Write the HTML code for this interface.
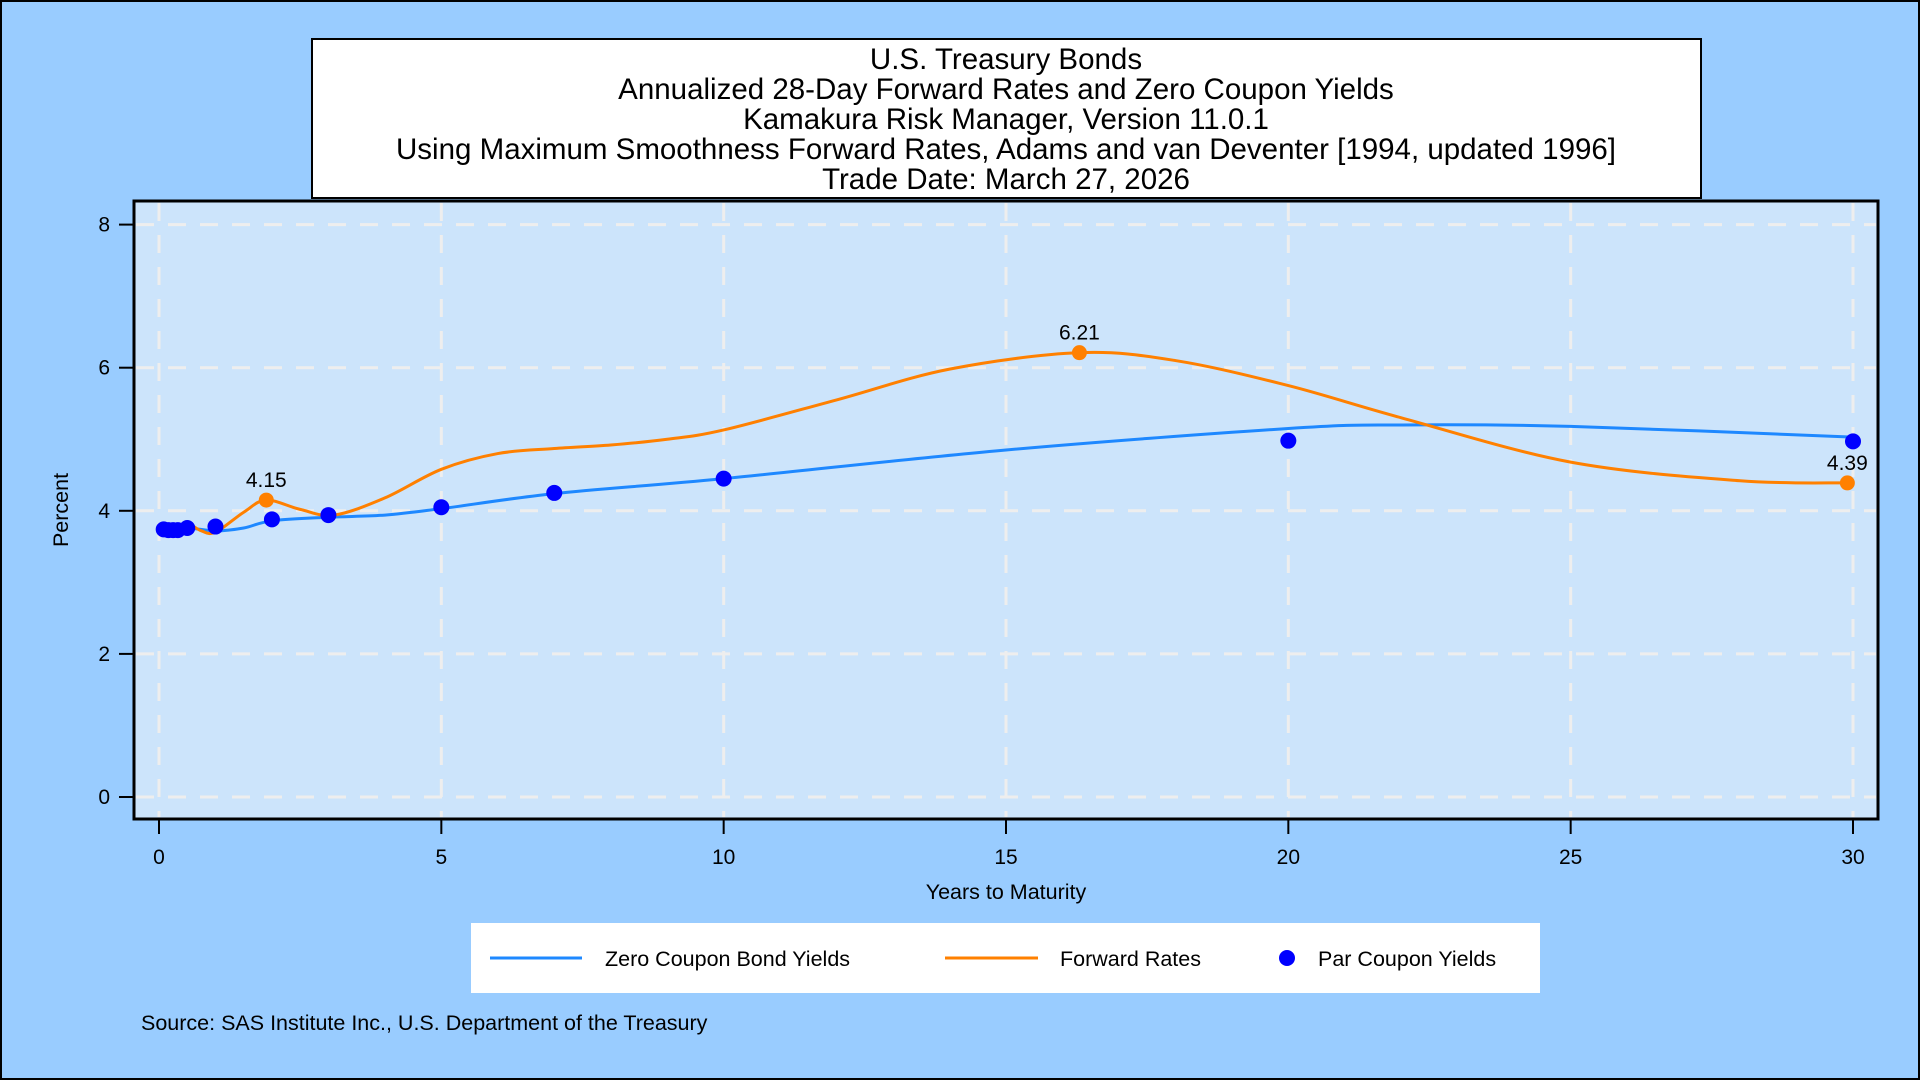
<!DOCTYPE html>
<html><head><meta charset="utf-8"><style>
html,body{margin:0;padding:0;background:#99ccff;}
svg{display:block;font-family:"Liberation Sans",Arial,sans-serif;}
</style></head><body>
<svg id="chart" width="1920" height="1080" viewBox="0 0 1920 1080" xmlns="http://www.w3.org/2000/svg">
<rect x="1" y="1" width="1918" height="1078" fill="#99ccff" stroke="#000" stroke-width="2"/>
<g>
<rect x="312" y="39" width="1389" height="159" fill="#fff" stroke="#000" stroke-width="2"/>
<text x="1006" y="69" font-size="29.5" text-anchor="middle">U.S. Treasury Bonds</text>
<text x="1006" y="99" font-size="29.5" text-anchor="middle">Annualized 28-Day Forward Rates and Zero Coupon Yields</text>
<text x="1006" y="129" font-size="29.5" text-anchor="middle">Kamakura Risk Manager, Version 11.0.1</text>
<text x="1006" y="159" font-size="29.5" text-anchor="middle">Using Maximum Smoothness Forward Rates, Adams and van Deventer [1994, updated 1996]</text>
<text x="1006" y="189" font-size="29.5" text-anchor="middle">Trade Date: March 27, 2026</text>
</g>
<rect x="134" y="201" width="1744" height="618" fill="#cce4fb" stroke="#000" stroke-width="3"/>
<g id="grid"></g>
<g id="axes"></g>
<g id="series"></g>
<text x="1006" y="899" font-size="21.5" text-anchor="middle">Years to Maturity</text>
<text x="0" y="0" font-size="21.5" text-anchor="middle" transform="translate(68,510) rotate(-90)">Percent</text>
<g>
<rect x="471" y="923" width="1069" height="70" fill="#fff"/>
<g><line x1="490" y1="958" x2="582" y2="958" stroke="#1e88ff" stroke-width="3"/><text x="605" y="966" font-size="21.5">Zero Coupon Bond Yields</text></g>
<g><line x1="945" y1="958" x2="1038" y2="958" stroke="#ff8000" stroke-width="3"/><text x="1060" y="966" font-size="21.5">Forward Rates</text></g>
<g><circle cx="1287" cy="958" r="8" fill="#0000ff"/><text x="1318" y="966" font-size="21.5">Par Coupon Yields</text></g>
</g>
<text x="141" y="1030" font-size="21.5">Source: SAS Institute Inc., U.S. Department of the Treasury</text>
</svg>
<script>
const xTicks=[0,5,10,15,20,25,30];
const yTicks=[0,2,4,6,8];
const zeroX=[0,0.5,1,1.5,2,3,4,5,7,10,15,20,22,25,30];
const zeroY=[3.74,3.76,3.72,3.76,3.86,3.91,3.94,4.03,4.24,4.45,4.85,5.15,5.2,5.18,5.03];
const fwdX=[0,0.3,0.5,0.75,1,1.5,1.9,2.5,3.1,4,5,6,7,8,9,10,12,14,16.3,18,20,22,25,28,29.9];
const fwdY=[3.74,3.72,3.82,3.72,3.70,3.98,4.15,4.02,3.94,4.18,4.58,4.80,4.87,4.92,5.0,5.13,5.55,5.98,6.21,6.1,5.75,5.3,4.68,4.42,4.39];
const parX=[0.083,0.167,0.25,0.333,0.5,1,2,3,5,7,10,20,30];
const parY=[3.74,3.73,3.73,3.73,3.76,3.78,3.88,3.94,4.05,4.25,4.45,4.98,4.97];
const fwdLabelX=[1.9,16.3,29.9];
const fwdLabelY=[4.15,6.21,4.39];

const NS="http://www.w3.org/2000/svg";
function sx(v){return 159+v*(1853-159)/30;}
function sy(v){return 797-v*(797-224.6)/8;}
function mk(tag,attrs,parent){const e=document.createElementNS(NS,tag);for(const k in attrs)e.setAttribute(k,attrs[k]);parent.appendChild(e);return e;}
const grid=document.getElementById('grid'),axes=document.getElementById('axes'),series=document.getElementById('series');
xTicks.forEach(t=>{
  const g=mk('line',{x1:sx(t),x2:sx(t),y1:203,y2:817,stroke:'#eeeeee','stroke-width':3,'stroke-dasharray':'18 14'},grid);
  
  
  const tk=mk('line',{x1:sx(t),x2:sx(t),y1:819,y2:834,stroke:'#000','stroke-width':2},axes);
  
  
  const tl=mk('text',{x:sx(t),y:864,'font-size':21,'text-anchor':'middle'},axes);
  tl.textContent=t;
  
  
});
yTicks.forEach(t=>{
  const g=mk('line',{x1:136,x2:1876,y1:sy(t),y2:sy(t),stroke:'#eeeeee','stroke-width':3,'stroke-dasharray':'18 14'},grid);
  
  
  const tk=mk('line',{x1:119,x2:134,y1:sy(t),y2:sy(t),stroke:'#000','stroke-width':2},axes);
  
  
  const tl=mk('text',{x:110,y:sy(t)+7,'font-size':21,'text-anchor':'end'},axes);
  tl.textContent=t;
  
  
});
function smooth(xs,ys){
  const p=xs.map((x,i)=>[sx(x),sy(ys[i])]);
  let d='M'+p[0][0]+','+p[0][1];
  for(let i=0;i<p.length-1;i++){
    const p0=p[Math.max(0,i-1)],p1=p[i],p2=p[i+1],p3=p[Math.min(p.length-1,i+2)];
    const c1=[p1[0]+(p2[0]-p0[0])/6,p1[1]+(p2[1]-p0[1])/6];
    const c2=[p2[0]-(p3[0]-p1[0])/6,p2[1]-(p3[1]-p1[1])/6];
    d+=' C'+c1[0]+','+c1[1]+' '+c2[0]+','+c2[1]+' '+p2[0]+','+p2[1];
  }
  return d;
}
const zl=mk('path',{d:smooth(zeroX,zeroY),fill:'none',stroke:'#1e88ff','stroke-width':3},series);


const fl=mk('path',{d:smooth(fwdX,fwdY),fill:'none',stroke:'#ff8000','stroke-width':3},series);


fwdLabelX.forEach((x,i)=>{
  const c=mk('circle',{cx:sx(x),cy:sy(fwdLabelY[i]),r:7.5,fill:'#ff8000'},series);
  
  
  const t=mk('text',{x:sx(x),y:sy(fwdLabelY[i])-13,'font-size':21,'text-anchor':'middle'},series);
  t.textContent=fwdLabelY[i].toFixed(2);
  
  
});
parX.forEach((x,i)=>{
  const c=mk('circle',{cx:sx(x),cy:sy(parY[i]),r:8,fill:'#0000ff'},series);
  
  
});
</script>
</body></html>
